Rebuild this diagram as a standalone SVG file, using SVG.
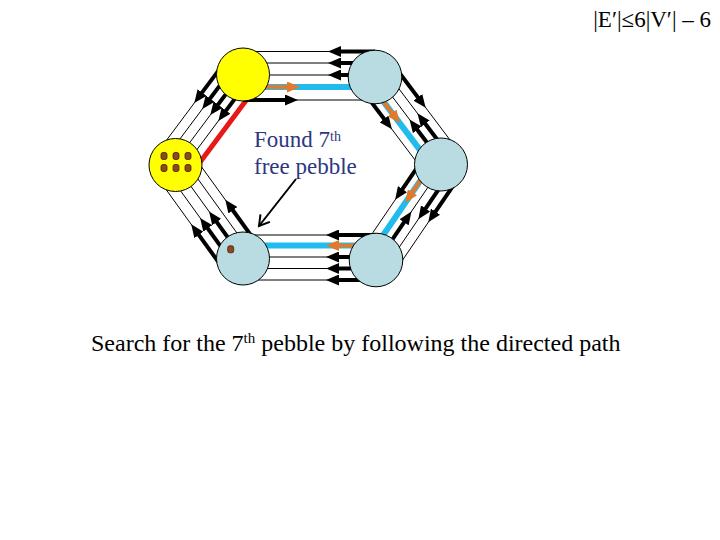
<svg xmlns="http://www.w3.org/2000/svg" width="720" height="540" viewBox="0 0 720 540">
<style>
.thin{stroke:#000;stroke-width:1;fill:none}
.cy{stroke:#22BBEE;stroke-width:6;fill:none}
.rd{stroke:#E81818;stroke-width:5;fill:none}
.ar{stroke:#000;stroke-width:4;fill:none;marker-end:url(#ab)}
.or{stroke:#E27A2C;stroke-width:4;fill:none;marker-end:url(#ao)}
.yel{fill:#FFFF00;stroke:#000;stroke-width:1}
.blu{fill:#B9DCE2;stroke:#000;stroke-width:1}
.peb{fill:#8B4A1C;stroke:#4A2008;stroke-width:0.8}
.lbl{font-family:"Liberation Serif","Times New Roman",serif;fill:#2E3780}
.txt{font-family:"Liberation Serif","Times New Roman",serif;fill:#000}
</style>
<defs>
<marker id="ab" markerUnits="userSpaceOnUse" markerWidth="13" markerHeight="11" viewBox="0 0 13 11" refX="1" refY="5.5" orient="auto"><path d="M0,0 L13,5.5 L0,11 z" fill="#000"/></marker>
<marker id="ao" markerUnits="userSpaceOnUse" markerWidth="13" markerHeight="11" viewBox="0 0 13 11" refX="1" refY="5.5" orient="auto"><path d="M0,0 L13,5.5 L0,11 z" fill="#E27A2C"/></marker>
<marker id="av" markerUnits="userSpaceOnUse" markerWidth="14" markerHeight="14" viewBox="-12 -7 14 14" refX="0" refY="0" orient="auto" overflow="visible"><path d="M-10,-6 L0,0 L-10,6" fill="none" stroke="#000" stroke-width="2"/></marker>
</defs>
<rect width="720" height="540" fill="#fff"/>
<g id="connectors">
<!-- A: N1-N2 -->
<line class="thin" x1="243" y1="100" x2="375" y2="100"/>
<line class="thin" x1="243" y1="87" x2="375" y2="87"/>
<line class="thin" x1="243" y1="75" x2="375" y2="75"/>
<line class="thin" x1="243" y1="63" x2="375" y2="63"/>
<line class="thin" x1="243" y1="51.5" x2="375" y2="51.5"/>
<!-- F: N4-N5 -->
<line class="thin" x1="243" y1="235" x2="376" y2="235"/>
<line class="thin" x1="243" y1="245.5" x2="376" y2="245.5"/>
<line class="thin" x1="243" y1="257" x2="376" y2="257"/>
<line class="thin" x1="243" y1="268.5" x2="376" y2="268.5"/>
<line class="thin" x1="243" y1="280" x2="376" y2="280"/>
<!-- B: N2-N3 -->
<line class="thin" x1="360.63" y1="87.84" x2="426.63" y2="175.34"/>
<line class="thin" x1="368.61" y1="81.82" x2="434.61" y2="169.32"/>
<line class="thin" x1="376.60" y1="75.80" x2="442.60" y2="163.30"/>
<line class="thin" x1="384.58" y1="69.77" x2="450.58" y2="157.27"/>
<line class="thin" x1="392.56" y1="63.75" x2="458.56" y2="151.25"/>
<!-- C: N3-N4 -->
<line class="thin" x1="426.12" y1="154.37" x2="361.12" y2="249.87"/>
<line class="thin" x1="434.39" y1="160.00" x2="369.39" y2="255.50"/>
<line class="thin" x1="442.65" y1="165.63" x2="377.65" y2="261.13"/>
<line class="thin" x1="450.92" y1="171.25" x2="385.92" y2="266.75"/>
<line class="thin" x1="459.19" y1="176.88" x2="394.19" y2="272.38"/>
<!-- D: N1-N6 -->
<line class="thin" x1="249.41" y1="79.28" x2="181.91" y2="169.78"/>
<line class="thin" x1="241.40" y1="73.30" x2="173.90" y2="163.80"/>
<line class="thin" x1="233.38" y1="67.33" x2="165.88" y2="157.83"/>
<line class="thin" x1="225.36" y1="61.35" x2="157.86" y2="151.85"/>
<!-- E: N5-N6 -->
<line class="thin" x1="259.22" y1="246.79" x2="191.72" y2="153.29"/>
<line class="thin" x1="251.11" y1="252.65" x2="183.61" y2="159.15"/>
<line class="thin" x1="243" y1="258.5" x2="175.5" y2="165"/>
<line class="thin" x1="234.08" y1="264.94" x2="166.58" y2="171.44"/>
<line class="thin" x1="225.16" y1="271.38" x2="157.66" y2="177.88"/>
<!-- path highlights -->
<line class="cy" x1="243" y1="87" x2="375" y2="87"/>
<line class="cy" x1="368.61" y1="81.82" x2="434.61" y2="169.32"/>
<line class="cy" x1="434.39" y1="160.00" x2="369.39" y2="255.50"/>
<line class="cy" x1="243" y1="245.5" x2="376" y2="245.5"/>
<line class="rd" x1="257.43" y1="85.26" x2="189.93" y2="175.76"/>
<!-- arrows A -->
<line class="ar" x1="375" y1="51.5" x2="340" y2="51.5"/>
<line class="ar" x1="375" y1="63" x2="340" y2="63"/>
<line class="ar" x1="375" y1="75" x2="340" y2="75"/>
<line class="or" x1="243" y1="87" x2="288" y2="87"/>
<line class="ar" x1="243" y1="100" x2="286" y2="100"/>
<!-- arrows F -->
<line class="ar" x1="376" y1="235" x2="338" y2="235"/>
<line class="or" x1="376" y1="245.5" x2="338" y2="245.5"/>
<line class="ar" x1="376" y1="257" x2="338" y2="257"/>
<line class="ar" x1="376" y1="268.5" x2="338" y2="268.5"/>
<line class="ar" x1="376" y1="280" x2="338" y2="280"/>
<!-- arrows B -->
<line class="ar" x1="360.63" y1="87.84" x2="384.72" y2="119.78"/>
<line class="or" x1="368.61" y1="81.82" x2="392.70" y2="113.76"/>
<line class="ar" x1="392.56" y1="63.75" x2="418.45" y2="98.08"/>
<line class="ar" x1="442.60" y1="163.30" x2="416.71" y2="128.97"/>
<line class="ar" x1="450.58" y1="157.27" x2="424.69" y2="122.94"/>
<!-- arrows C -->
<line class="ar" x1="426.12" y1="154.37" x2="401.92" y2="189.92"/>
<line class="or" x1="434.39" y1="160.00" x2="411.88" y2="193.07"/>
<line class="ar" x1="377.65" y1="261.13" x2="404.66" y2="221.45"/>
<line class="ar" x1="450.92" y1="171.25" x2="425.04" y2="209.28"/>
<line class="ar" x1="459.19" y1="176.88" x2="434.99" y2="212.43"/>
<!-- arrows D -->
<line class="ar" x1="249.41" y1="79.28" x2="225.49" y2="111.34"/>
<line class="ar" x1="241.40" y1="73.30" x2="217.48" y2="105.36"/>
<line class="ar" x1="233.38" y1="67.33" x2="209.46" y2="99.39"/>
<line class="ar" x1="225.36" y1="61.35" x2="201.44" y2="93.41"/>
<!-- arrows E -->
<line class="ar" x1="259.22" y1="246.79" x2="232.30" y2="209.49"/>
<line class="ar" x1="243" y1="258.5" x2="216.08" y2="221.20"/>
<line class="ar" x1="234.08" y1="264.94" x2="207.16" y2="227.64"/>
<line class="ar" x1="225.16" y1="271.38" x2="198.24" y2="234.08"/>
<!-- pointer -->
<line x1="296" y1="179" x2="259" y2="226" stroke="#000" stroke-width="2" marker-end="url(#av)"/>
</g>
<g id="n1"><circle class="yel" cx="243" cy="74.5" r="26.5"/></g>
<g id="n2"><circle class="blu" cx="375" cy="77" r="26.8"/></g>
<g id="n3"><circle class="blu" cx="441" cy="164.5" r="26.5"/></g>
<g id="n4"><circle class="blu" cx="376" cy="260" r="26.8"/></g>
<g id="n5"><circle class="blu" cx="243" cy="258.5" r="26.5"/><rect class="peb" x="227.7" y="245.8" width="6" height="7" rx="2"/></g>
<g id="n6"><circle class="yel" cx="175.5" cy="165" r="26.5"/>
<rect class="peb" x="161" y="152.5" width="6" height="7" rx="2"/>
<rect class="peb" x="173" y="152.5" width="6" height="7" rx="2"/>
<rect class="peb" x="185" y="152.5" width="6" height="7" rx="2"/>
<rect class="peb" x="161" y="164.5" width="6" height="7" rx="2"/>
<rect class="peb" x="173" y="164.5" width="6" height="7" rx="2"/>
<rect class="peb" x="185" y="164.5" width="6" height="7" rx="2"/>
</g>
<g id="label-found">
<text class="lbl" x="254" y="147" font-size="23">Found 7<tspan font-size="14" dy="-6">th</tspan></text>
<text class="lbl" x="254" y="174" font-size="23">free pebble</text>
</g>
<g id="title">
<text class="txt" x="711" y="27" font-size="23" text-anchor="end">|E′|≤6|V′| – 6</text>
</g>
<g id="caption">
<text class="txt" x="91" y="351" font-size="24">Search for the 7<tspan font-size="15" dy="-8">th</tspan><tspan dy="8"> pebble by following the directed path</tspan></text>
</g>
</svg>
